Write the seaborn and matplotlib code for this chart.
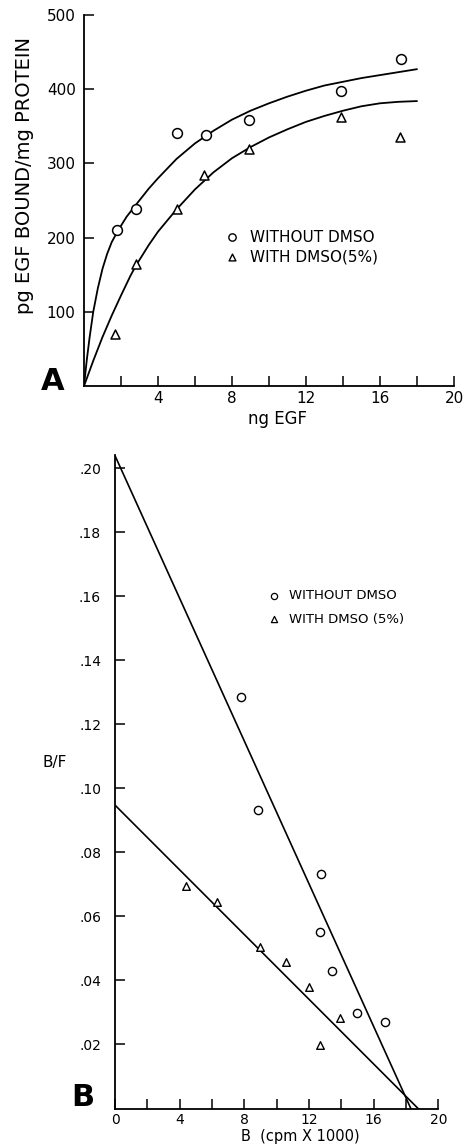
import matplotlib
matplotlib.use("Agg")
import matplotlib.pyplot as plt
import seaborn as sns
import pandas as pd

# Panel A: saturation binding (ng EGF vs pg EGF bound / mg protein)
egf_ng_without = [1.8, 2.8, 5.05, 6.6, 8.9, 13.9, 17.15]
bound_without = [210, 238, 341, 338, 359, 398, 441]
egf_ng_with = [1.68, 2.8, 5.05, 6.5, 8.9, 13.9, 17.1]
bound_with = [70, 164, 239, 284, 319, 362, 335]

# fitted curves
curve_x_without = [0, 0.15, 0.3, 0.5, 0.75, 1, 1.25, 1.5, 1.85, 2.3, 2.8, 3.5, 4,
                   5, 6, 7, 8, 9, 10, 11, 12, 13, 14, 15, 16, 17, 18]
curve_y_without = [0, 35, 65, 100, 132, 158, 178, 194, 210, 228, 244, 266, 280,
                   306, 327, 344, 359, 371, 381, 390, 398, 405, 410, 415, 419, 423, 427]
curve_x_with = [0, 0.5, 1, 1.5, 2, 2.5, 2.8, 3.5, 4, 5, 6, 7, 8, 9, 10, 11, 12,
                13, 14, 15, 16, 17, 18]
curve_y_with = [0, 34, 66, 95, 122, 148, 162, 190, 208, 238, 265, 288, 307, 322,
                335, 346, 356, 364, 371, 377, 381, 383, 384]

# Panel B: Scatchard plot (B vs B/F)
b_without = [7.79, 8.82, 12.74, 12.7, 13.42, 14.99, 16.72]
bf_without = [0.1287, 0.0934, 0.0733, 0.0553, 0.0429, 0.0298, 0.0269]
b_with = [4.37, 6.29, 8.99, 10.6, 12.0, 13.9, 12.66]
bf_with = [0.0695, 0.0646, 0.0506, 0.0458, 0.0379, 0.0282, 0.0198]

# regression lines (end points)
line_x_without = [0, 18.3]
line_y_without = [0.204, 0.0]
line_x_with = [0, 18.75]
line_y_with = [0.0948, 0.0]

labels_a = ["WITHOUT DMSO", "WITH DMSO(5%)"]
labels_b = ["WITHOUT DMSO", "WITH DMSO (5%)"]

sns.set_theme(style="ticks")
plt.rcParams["font.family"] = ["DejaVu Sans"]
plt.rcParams["text.color"] = "black"

W, H = 467, 1145
fig = plt.figure(figsize=(W / 100, H / 100), dpi=100)


def px_axes(left, top, right, bottom):
    return fig.add_axes([left / W, 1 - bottom / H, (right - left) / W, (bottom - top) / H])


def style_axes(ax):
    for s in ["top", "right"]:
        ax.spines[s].set_visible(False)
    for s in ["left", "bottom"]:
        ax.spines[s].set_color("black")
        ax.spines[s].set_linewidth(1.3)
    ax.tick_params(axis="both", which="both", direction="in", color="black",
                   width=1.1, labelcolor="black")
    ax.tick_params(axis="both", which="major", length=7)
    ax.tick_params(axis="x", which="minor", length=7)
    ax.set_xlabel("")
    ax.set_ylabel("")


# ---------------- Panel A ----------------
axA = px_axes(84, 15, 454, 386)
df_wo = pd.DataFrame({"x": egf_ng_without, "y": bound_without})
df_w = pd.DataFrame({"x": egf_ng_with, "y": bound_with})
cw = pd.DataFrame({"x": curve_x_without, "y": curve_y_without})
cwi = pd.DataFrame({"x": curve_x_with, "y": curve_y_with})

sns.lineplot(data=cw, x="x", y="y", ax=axA, color="black", lw=1.3, sort=False)
sns.lineplot(data=cwi, x="x", y="y", ax=axA, color="black", lw=1.3, sort=False)
sns.scatterplot(data=df_wo, x="x", y="y", ax=axA, marker="o", s=50,
                facecolor="white", edgecolor="black", linewidth=1.1, zorder=3)
sns.scatterplot(data=df_w, x="x", y="y", ax=axA, marker="^", s=42,
                facecolor="white", edgecolor="black", linewidth=1.1, zorder=3)
axA.set_xlim(0, 20)
axA.set_ylim(0, 500)
axA.set_xticks([4, 8, 12, 16, 20])
axA.set_xticks(range(2, 21, 2), minor=True)
axA.set_yticks([100, 200, 300, 400, 500])
axA.tick_params(labelsize=11)
axA.tick_params(axis="y", pad=6)
style_axes(axA)

# legend A
axA.scatter([8.0], [201], marker="o", s=28, facecolor="white", edgecolor="black",
            linewidth=1.0, clip_on=False, zorder=4)
axA.scatter([8.0], [174], marker="^", s=24, facecolor="white", edgecolor="black",
            linewidth=1.0, clip_on=False, zorder=4)
fig.text(250 / W, 1 - 237 / H, labels_a[0], ha="left", va="center", fontsize=11)
fig.text(250 / W, 1 - 257 / H, labels_a[1], ha="left", va="center", fontsize=11)

fig.text(25 / W, 1 - 175 / H, "pg EGF BOUND/mg PROTEIN", rotation=90,
         ha="center", va="center", fontsize=14)
fig.text(277 / W, 1 - 419 / H, "ng EGF", ha="center", va="center", fontsize=12)
fig.text(53 / W, 1 - 381 / H, "A", ha="center", va="center", fontsize=22,
         fontweight="bold")

# ---------------- Panel B ----------------
axB = px_axes(115, 455, 438.3, 1108.5)
dfb_wo = pd.DataFrame({"x": b_without, "y": bf_without})
dfb_w = pd.DataFrame({"x": b_with, "y": bf_with})
lw_ = pd.DataFrame({"x": line_x_without, "y": line_y_without})
lwi = pd.DataFrame({"x": line_x_with, "y": line_y_with})

sns.lineplot(data=lw_, x="x", y="y", ax=axB, color="black", lw=1.2)
sns.lineplot(data=lwi, x="x", y="y", ax=axB, color="black", lw=1.2)
sns.scatterplot(data=dfb_wo, x="x", y="y", ax=axB, marker="o", s=35,
                facecolor="white", edgecolor="black", linewidth=1.0, zorder=3)
sns.scatterplot(data=dfb_w, x="x", y="y", ax=axB, marker="^", s=30,
                facecolor="white", edgecolor="black", linewidth=1.0, zorder=3)
axB.set_xlim(0, 20)
axB.set_ylim(0, 0.2042)
axB.set_xticks([0, 4, 8, 12, 16, 20])
axB.set_xticks(range(2, 21, 2), minor=True)
yt = [0.02, 0.04, 0.06, 0.08, 0.10, 0.12, 0.14, 0.16, 0.18, 0.20]
axB.set_yticks(yt)
axB.set_yticklabels(["." + f"{v:.2f}".split(".")[1] for v in yt])
axB.tick_params(labelsize=10)
axB.tick_params(axis="y", pad=10)
style_axes(axB)

# legend B
bx = (274 - 115) / 323.3 * 20
axB.scatter([bx], [(1108.5 - 596) / 3200], marker="o", s=20, facecolor="white",
            edgecolor="black", linewidth=0.9, zorder=4)
axB.scatter([bx], [(1108.5 - 619) / 3200], marker="^", s=20, facecolor="white",
            edgecolor="black", linewidth=0.9, zorder=4)
fig.text(289 / W, 1 - 596 / H, labels_b[0], ha="left", va="center", fontsize=9.5)
fig.text(289 / W, 1 - 619 / H, labels_b[1], ha="left", va="center", fontsize=9.5)

fig.text(55 / W, 1 - 763 / H, "B/F", ha="center", va="center", fontsize=11)
fig.text(300 / W, 1 - 1136 / H, "B  (cpm X 1000)", ha="center", va="center",
         fontsize=10.5)
fig.text(83 / W, 1 - 1098 / H, "B", ha="center", va="center", fontsize=22,
         fontweight="bold")

fig.savefig("out.png", dpi=100, facecolor="white")
